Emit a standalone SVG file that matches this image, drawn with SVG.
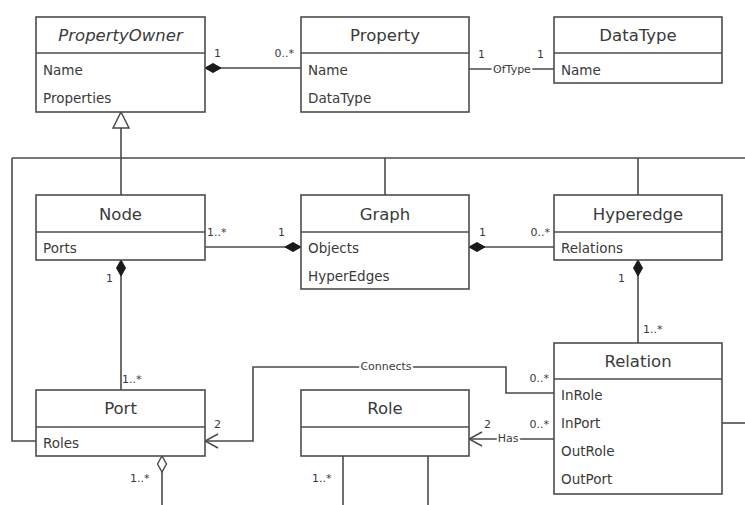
<svg xmlns="http://www.w3.org/2000/svg" width="745" height="505" viewBox="0 0 745 505">
<style>
.box{fill:#fff;stroke:#4d4d4d;stroke-width:1.6}
.sep{stroke:#4d4d4d;stroke-width:1.4}
.t{font-family:"DejaVu Sans",Verdana,sans-serif;font-size:16.5px;fill:#3a3a3a;text-anchor:middle}
.ti{font-style:italic}
.a{font-family:"DejaVu Sans",Verdana,sans-serif;font-size:13.5px;fill:#3a3a3a}
.m{font-family:"DejaVu Sans",Verdana,sans-serif;font-size:11px;fill:#3a3a3a}
.lbl{font-family:"DejaVu Sans",Verdana,sans-serif;font-size:11px;fill:#3a3a3a;text-anchor:middle;paint-order:stroke;stroke:#fff;stroke-width:4px}
.ln{fill:none;stroke:#4a4a4a;stroke-width:1.6}
</style>
<defs>
<marker id="dia" markerUnits="userSpaceOnUse" viewBox="0 0 17 11" refX="0.5" refY="5.5" markerWidth="17" markerHeight="11" orient="auto">
<path d="M0.5,5.5 L8.5,1 L16.5,5.5 L8.5,10 Z" fill="#1a1a1a" stroke="#1a1a1a" stroke-width="1"/>
</marker>
<marker id="hdia" markerUnits="userSpaceOnUse" viewBox="0 0 17 11" refX="0.5" refY="5.5" markerWidth="17" markerHeight="11" orient="auto">
<path d="M0.5,5.5 L8.5,1 L16.5,5.5 L8.5,10 Z" fill="#fff" stroke="#4a4a4a" stroke-width="1.4"/>
</marker>
<marker id="tri" markerUnits="userSpaceOnUse" viewBox="-1 -10 19 20" refX="0" refY="0" markerWidth="19" markerHeight="20" orient="auto">
<path d="M0,0 L16,-8 L16,8 Z" fill="#fff" stroke="#4a4a4a" stroke-width="1.5"/>
</marker>
<marker id="arr" markerUnits="userSpaceOnUse" viewBox="-1 -8 16 16" refX="0" refY="0" markerWidth="16" markerHeight="16" orient="auto">
<path d="M13,-7 L0,0 L13,7" fill="none" stroke="#4a4a4a" stroke-width="1.5"/>
</marker>
</defs>
<rect width="745" height="505" fill="#fff"/>

<g id="connectors">
<path class="ln" d="M205,68 H301" marker-start="url(#dia)"/>
<path class="ln" d="M469,69 H554"/>
<path class="ln" d="M121,112 V158"  marker-start="url(#tri)"/>
<path class="ln" d="M12,158 H745"/>
<path class="ln" d="M121,158 V195"/>
<path class="ln" d="M385,158 V195"/>
<path class="ln" d="M638,158 V195"/>
<path class="ln" d="M12,158 V441 H36"/>
<path class="ln" d="M301,247 H205" marker-start="url(#dia)"/>
<path class="ln" d="M469,247 H554" marker-start="url(#dia)"/>
<path class="ln" d="M121,260 V390" marker-start="url(#dia)"/>
<path class="ln" d="M638,260 V343" marker-start="url(#dia)"/>
<path class="ln" d="M205,441 H253 V367 H506 V393 H554" marker-start="url(#arr)"/>
<path class="ln" d="M469,439 H554" marker-start="url(#arr)"/>
<path class="ln" d="M722,423 H745"/>
<path class="ln" d="M162,456 V505" marker-start="url(#hdia)"/>
<path class="ln" d="M343,456 V505"/>
<path class="ln" d="M428,456 V505"/>
<text class="lbl" x="512" y="73">OfType</text>
<text class="lbl" x="386" y="370">Connects</text>
<text class="lbl" x="508" y="442">Has</text>
<text class="m" x="214" y="57">1</text>
<text class="m" x="294" y="57" text-anchor="end">0..*</text>
<text class="m" x="478" y="58">1</text>
<text class="m" x="537" y="58">1</text>
<text class="m" x="207" y="236">1..*</text>
<text class="m" x="278" y="236">1</text>
<text class="m" x="479" y="236">1</text>
<text class="m" x="550" y="236" text-anchor="end">0..*</text>
<text class="m" x="106" y="282">1</text>
<text class="m" x="122" y="383">1..*</text>
<text class="m" x="618" y="282">1</text>
<text class="m" x="643" y="333">1..*</text>
<text class="m" x="549" y="382" text-anchor="end">0..*</text>
<text class="m" x="549" y="428" text-anchor="end">0..*</text>
<text class="m" x="484" y="428">2</text>
<text class="m" x="214" y="428">2</text>
<text class="m" x="130" y="482">1..*</text>
<text class="m" x="312" y="482">1..*</text>
</g>

<g id="PropertyOwner">
<rect class="box" x="36" y="17" width="169" height="95"/>
<line class="sep" x1="36" y1="53" x2="205" y2="53"/>
<text class="t ti" x="120.5" y="41">PropertyOwner</text>
<text class="a" x="43" y="75">Name</text>
<text class="a" x="43" y="103">Properties</text>
</g>

<g id="Property">
<rect class="box" x="301" y="17" width="168" height="95"/>
<line class="sep" x1="301" y1="53" x2="469" y2="53"/>
<text class="t" x="385" y="41">Property</text>
<text class="a" x="308" y="75">Name</text>
<text class="a" x="308" y="103">DataType</text>
</g>

<g id="DataType">
<rect class="box" x="554" y="17" width="168" height="66"/>
<line class="sep" x1="554" y1="53" x2="722" y2="53"/>
<text class="t" x="638" y="41">DataType</text>
<text class="a" x="561" y="75">Name</text>
</g>

<g id="Node">
<rect class="box" x="36" y="195" width="169" height="65"/>
<line class="sep" x1="36" y1="232" x2="205" y2="232"/>
<text class="t" x="120.5" y="220">Node</text>
<text class="a" x="43" y="253">Ports</text>
</g>

<g id="Graph">
<rect class="box" x="301" y="195" width="168" height="94"/>
<line class="sep" x1="301" y1="232" x2="469" y2="232"/>
<text class="t" x="385" y="220">Graph</text>
<text class="a" x="308" y="253">Objects</text>
<text class="a" x="308" y="281">HyperEdges</text>
</g>

<g id="Hyperedge">
<rect class="box" x="554" y="195" width="168" height="65"/>
<line class="sep" x1="554" y1="232" x2="722" y2="232"/>
<text class="t" x="638" y="220">Hyperedge</text>
<text class="a" x="561" y="253">Relations</text>
</g>

<g id="Relation">
<rect class="box" x="554" y="343" width="168" height="151"/>
<line class="sep" x1="554" y1="379" x2="722" y2="379"/>
<text class="t" x="638" y="367">Relation</text>
<text class="a" x="561" y="400">InRole</text>
<text class="a" x="561" y="428">InPort</text>
<text class="a" x="561" y="456">OutRole</text>
<text class="a" x="561" y="484">OutPort</text>
</g>

<g id="Port">
<rect class="box" x="36" y="390" width="169" height="66"/>
<line class="sep" x1="36" y1="427" x2="205" y2="427"/>
<text class="t" x="120.5" y="414">Port</text>
<text class="a" x="43" y="448">Roles</text>
</g>

<g id="Role">
<rect class="box" x="301" y="390" width="168" height="66"/>
<line class="sep" x1="301" y1="427" x2="469" y2="427"/>
<text class="t" x="385" y="414">Role</text>
</g>
</svg>
